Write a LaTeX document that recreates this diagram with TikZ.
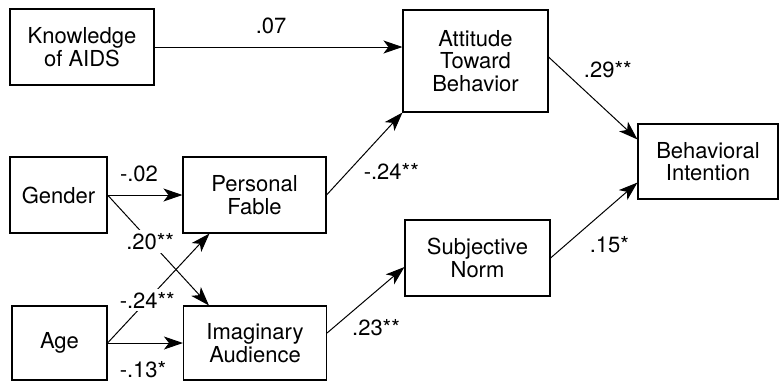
\documentclass[tikz,border=0pt]{standalone}
\usepackage{fontspec}
\setmainfont{TeX Gyre Heros}
\usetikzlibrary{arrows.meta}

\begin{document}
\begin{tikzpicture}[
    x=1pt, y=-1pt,
    varbox/.style={rectangle, draw=black, line width=1.1pt, align=center, inner sep=0pt, minimum height=76pt, font=\fontsize{22}{22.5}\selectfont},
    coef/.style={font=\fontsize{22}{22.5}\selectfont, inner sep=1pt},
    gapcoef/.style={coef, fill=white, inner sep=3pt},
    arrow/.style={-{Stealth[length=19pt, width=13pt, inset=5pt]}, line width=1pt}
]
    \useasboundingbox (0,0) rectangle (781,383);

    \node [varbox, minimum width=144pt] (know) at (82,47) {Knowledge\\of AIDS};
    \node [varbox, minimum width=145pt, minimum height=102pt] (att) at (475.5,61) {Attitude\\Toward\\Behavior};
    \node [varbox, minimum width=140pt, minimum height=75pt] (bi) at (708,161.5) {Behavioral\\Intention};
    \node [varbox, minimum width=97pt] (gender) at (58.5,195) {Gender};
    \node [varbox, minimum width=143pt] (pf) at (254.5,195) {Personal\\Fable};
    \node [varbox, minimum width=95pt, minimum height=74pt] (age) at (59.5,343) {Age};
    \node [varbox, minimum width=143pt, minimum height=74pt] (ia) at (255,343) {Imaginary\\Audience};
    \node [varbox, minimum width=145pt] (sn) at (477.5,258) {Subjective\\Norm};

    \draw [arrow] (know.east) -- (know.east -| att.west) node [coef, pos=0.47, yshift=21pt] {.07};
    \draw [arrow] ([yshift=4pt]att.east) -- ([yshift=-16pt]bi.north west) node [coef, pos=0.43, xshift=21pt, yshift=23pt] {.29**};
    \draw [arrow] (sn.east) -- ([yshift=17pt]bi.south west) node [coef, pos=0.47, xshift=18pt, yshift=-22pt] {.15*};
    \draw [arrow] ([yshift=10pt]ia.east) -- ([yshift=-9pt]sn.west) node [coef, pos=0.4, xshift=18pt, yshift=-21pt] {.23**};
    \draw [arrow] (gender) -- (pf) node [coef, pos=0.42, yshift=21pt] {-.02};
    \draw [arrow] (pf.east) -- (att.south west) node [coef, pos=0.55, xshift=23pt, yshift=-22pt] {-.24**};
    \draw [arrow] (gender.east) -- ([xshift=26pt]ia.north west) node [gapcoef, pos=0.42] {.20**};
    \draw [arrow] (age.east) -- ([xshift=27pt]pf.south west) node [gapcoef, pos=0.39] {-.24**};
    \draw [arrow] (age) -- (ia) node [coef, pos=0.47, yshift=-27pt] {-.13*};
\end{tikzpicture}
\end{document}
